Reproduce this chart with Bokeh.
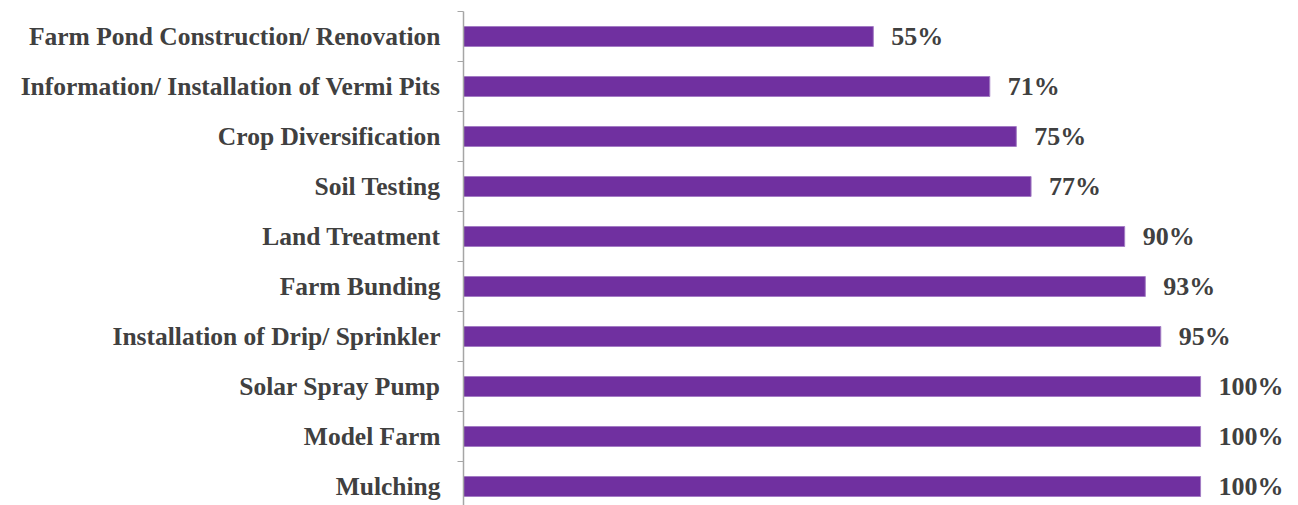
from bokeh.plotting import figure
from bokeh.models import Range1d, FixedTicker, ColumnDataSource
from bokeh.core.properties import value
from bokeh.embed import file_html
from bokeh.resources import INLINE

# Categories from top to bottom
categories = [
    "Farm Pond Construction/ Renovation",
    "Information/ Installation of Vermi Pits",
    "Crop Diversification",
    "Soil Testing",
    "Land Treatment",
    "Farm Bunding",
    "Installation of Drip/ Sprinkler",
    "Solar Spray Pump",
    "Model Farm",
    "Mulching",
]
values = [55.6, 71.4, 75.0, 77.0, 89.7, 92.5, 94.6, 100.0, 100.0, 100.0]
value_labels = ["55%", "71%", "75%", "77%", "90%", "93%", "95%", "100%", "100%", "100%"]

n = len(categories)
ys = [n - 1 - i for i in range(n)]

src = ColumnDataSource(dict(y=ys, v=values, lab=value_labels))

FONT = "Liberation Serif"
TXT = "#404040"

p = figure(width=1290, height=505, output_backend="svg", toolbar_location=None,
           x_range=Range1d(0, 112.2), y_range=Range1d(-0.38, n - 0.5),
           x_axis_location=None, min_border_left=463, min_border_top=11,
           min_border_right=0, min_border_bottom=0)
p.outline_line_color = None
p.xgrid.grid_line_color = None
p.ygrid.grid_line_color = None
p.background_fill_color = "white"
p.border_fill_color = "white"

p.hbar(y="y", right="v", left=0, height=0.4, source=src,
       fill_color="#7030A0", line_color="#A37CC4", line_width=1)

p.text(x="v", y="y", text="lab", source=src, x_offset=18,
       text_font=value(FONT), text_font_style="bold", text_font_size="26px",
       text_color=TXT, text_baseline="middle", text_align="left")

ax = p.yaxis[0]
ax.ticker = FixedTicker(ticks=ys, minor_ticks=[k - 0.5 for k in range(n + 1)])
ax.major_label_overrides = {y: c for y, c in zip(ys, categories)}
ax.major_tick_out = 0
ax.major_tick_in = 0
ax.minor_tick_out = 6
ax.minor_tick_in = 0
ax.minor_tick_line_color = "#A6A6A6"
ax.axis_line_color = "#A6A6A6"
ax.axis_line_width = 1.5
ax.major_label_standoff = 17
ax.major_label_text_font = FONT
ax.major_label_text_font_style = "bold"
ax.major_label_text_font_size = "25.5px"
ax.major_label_text_color = TXT

open("out.html", "w").write(file_html(p, INLINE))
